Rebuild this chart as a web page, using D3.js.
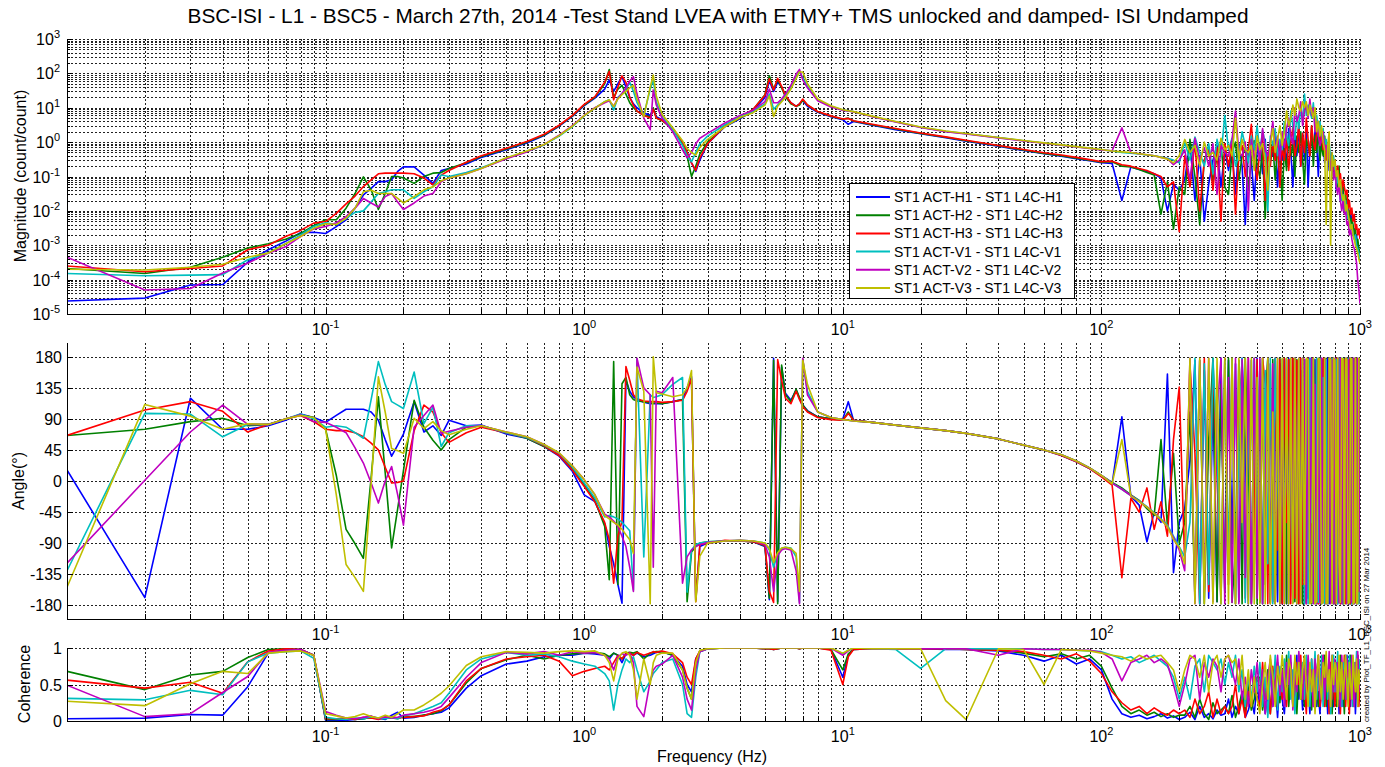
<!DOCTYPE html>
<html><head><meta charset="utf-8">
<script src="https://cdn.jsdelivr.net/npm/d3@7"></script>
<style>
body{margin:0;background:#fff;}
svg{display:block;font-family:"Liberation Sans",Arial,Helvetica,sans-serif;}
</style>
</head><body>
<svg id="c" width="1385" height="767"></svg>
<script>
// ---------------- DATA ----------------
const freq = [
 0.01,0.02,0.03,0.04,0.05,0.06,0.07,0.08,0.09,0.1,
 0.11,0.12,0.13,0.14,0.15,0.16,0.17,0.18,0.19,0.2,
 0.22,0.24,0.26,0.28,0.3,0.35,0.4,
 0.5,0.6,0.7,0.8,0.9,1.0,1.1,
 1.2,1.25,1.3,1.35,1.4,1.45,1.5,1.55,1.6,1.7,1.8,1.85,1.9,2.0,
 2.2,2.4,2.5,2.6,2.7,2.8,3.0,
 3.5,4.0,4.5,5.0,
 5.2,5.4,5.6,5.8,6.0,6.3,6.6,6.8,7.0,7.3,
 8,9,10,10.5,11,
 13,16,20,25,30,40,50,60,70,80,90,100,
 110,120,130,140,150,160,170,180,190,200,
 210,220,230,240,250,260,270,280,290,300,
 310,320,330,340,350,360,370,380,390,400,
 410,420,430,440,450,460,470,480,490,500,
 510,520,530,540,550,560,570,580,590,600,
 610,620,630,640,650,660,670,680,690,700,
 710,720,730,740,750,760,770,780,790,800,
 810,820,830,840,850,860,870,880,890,900,
 910,920,930,940,950,960,970,980,990,1000
];

const seriesNames = [
 "ST1 ACT-H1 - ST1 L4C-H1","ST1 ACT-H2 - ST1 L4C-H2","ST1 ACT-H3 - ST1 L4C-H3",
 "ST1 ACT-V1 - ST1 L4C-V1","ST1 ACT-V2 - ST1 L4C-V2","ST1 ACT-V3 - ST1 L4C-V3"
];

// Magnitude (count/count)
const magH1 = [
 2.4e-5,2.9e-5,7e-5,7.2e-5,3.2e-4,7.4e-4,1.3e-3,2.3e-3,2.4e-3,2.2e-3,
 3.5e-3,5.5e-3,0.012,0.029,0.045,0.071,0.071,0.08,0.14,0.19,
 0.19,0.11,0.063,0.15,0.17,0.23,0.36,
 0.6,0.95,1.55,2.9,5.6,11.5,19,
 35,64,30,50,80,40,20,13,10,7,6,9,5.5,4.5,
 2.5,1.0,0.5,0.25,0.14,0.3,0.9,
 2.8,4.8,8.2,20,
 60,30,55,40,22,14,11,13,16,11,
 7.4,5.5,4.5,3.3,4.0,
 3.1,2.3,1.75,1.35,1.07,0.76,0.57,0.46,0.39,0.33,0.29,0.25,
 0.24,0.02,0.19,0.16,0.14,0.12,0.09,0.01,0.06,0.04,
 0.08,0.9,0.02,0.4,0.005,0.06,0.3,0.8,0.05,0.6,
 0.15,0.6,0.03,0.9,0.2,0.004,0.7,0.3,0.02,0.5,
 0.9,0.12,1.2,0.03,0.6,0.4,1.5,0.05,0.8,0.3,
 1.2,0.2,2.5,0.6,0.05,1.5,0.4,3.0,0.2,1.8,
 0.3,2.5,0.05,0.7,1.8,0.3,2.2,0.9,0.1,1.4,
 0.6,1.2,0.25,0.6,0.9,0.15,0.3,0.5,0.1,0.2,
 0.04,0.1,0.08,0.02,0.05,0.012,0.03,0.02,0.008,0.015,
 0.004,0.008,0.006,0.002,0.003,0.0015,0.002,0.0008,0.0006,0.0004
];
const magH2 = [
 2.1e-4,1.5e-4,2.3e-4,4.5e-4,8.3e-4,1.1e-3,1.5e-3,2.2e-3,3.7e-3,5.5e-3,
 5.5e-3,0.012,0.032,0.097,0.041,0.011,0.032,0.1,0.1,0.09,
 0.063,0.1,0.125,0.13,0.17,0.25,0.38,
 0.63,1.0,1.6,3.0,5.8,12,20,
 50,130,20,35,45,25,14,10,8,6,5.5,10,5,4.2,
 2.4,0.9,0.4,0.1,0.2,0.45,1.0,
 2.9,5.0,8.8,24,
 85,35,65,38,21,13,11,12,17,12,
 7.6,5.7,4.6,5.0,4.1,
 3.2,2.4,1.8,1.38,1.1,0.78,0.59,0.47,0.4,0.34,0.3,0.26,
 0.27,0.2,0.19,0.16,0.13,0.11,0.008,0.07,0.003,0.05,
 0.03,1.2,0.1,0.004,0.3,0.6,0.07,0.4,0.9,0.05,
 0.03,0.5,1.0,0.08,0.4,0.7,0.04,0.3,1.1,0.2,
 0.1,0.7,0.006,0.5,0.3,1.0,0.08,0.6,0.5,0.02,
 0.7,0.15,1.3,0.4,0.9,0.1,1.5,0.5,2.0,0.3,
 0.06,1.2,0.8,0.4,3.0,0.2,1.6,0.5,2.2,0.3,
 0.9,0.4,1.5,0.5,0.3,0.6,0.2,0.4,0.1,0.25,
 0.1,0.05,0.2,0.03,0.06,0.05,0.01,0.03,0.015,0.006,
 0.01,0.003,0.006,0.004,0.002,0.003,0.001,0.0015,0.0008,0.0006
];
const magH3 = [
 2.5e-4,1.7e-4,2.1e-4,2.5e-4,7.4e-4,1e-3,1.8e-3,2.7e-3,4.4e-3,4.9e-3,
 8.5e-3,0.016,0.027,0.051,0.08,0.12,0.125,0.125,0.125,0.125,
 0.12,0.09,0.057,0.11,0.15,0.26,0.4,
 0.66,1.05,1.7,3.1,6.0,12.5,21,
 55,115,17,40,85,55,20,12,8,6,5,9,5,4.3,
 2.5,1.0,0.5,0.25,0.15,0.35,0.9,
 3.0,5.2,9.0,23,
 70,33,72,42,23,14,11,13,18,12,
 7.8,5.8,4.7,4.9,4.2,
 3.3,2.5,1.85,1.42,1.13,0.8,0.61,0.49,0.42,0.36,0.31,0.27,
 0.28,0.22,0.2,0.17,0.15,0.12,0.1,0.05,0.07,0.0025,
 0.4,0.05,1.0,0.01,0.3,0.6,0.04,0.7,0.005,0.9,
 0.2,0.9,0.008,0.4,0.8,0.1,0.6,3.3,0.3,0.08,
 0.6,1.4,0.02,0.5,0.2,1.0,0.3,1.2,0.05,0.7,
 0.3,1.3,0.15,0.9,2.8,0.4,0.8,3.5,0.2,1.8,
 0.5,5.0,1.2,0.4,3.0,1.1,0.6,2.0,4.0,0.8,
 1.5,0.6,1.0,0.3,0.6,0.5,0.25,0.4,0.15,0.3,
 0.1,0.2,0.06,0.12,0.04,0.08,0.05,0.03,0.04,0.012,
 0.02,0.008,0.012,0.005,0.008,0.003,0.004,0.002,0.003,0.0015
];
const magV1 = [
 1.5e-4,1.3e-4,1.35e-4,1.4e-4,3.8e-4,6e-4,1.1e-3,2e-3,3.5e-3,4.5e-3,
 4e-3,6.1e-3,9e-3,0.01,0.018,0.032,0.036,0.041,0.041,0.041,
 0.023,0.036,0.05,0.11,0.1,0.13,0.18,
 0.34,0.53,0.83,1.5,2.8,5.8,9.7,
 15,17,8.6,20,26,35,55,30,14,6,35,64,15,5.5,
 2.3,0.8,0.4,0.27,0.5,0.9,1.5,
 3.2,5.6,7.9,13,
 25,9,12,16,22,38,75,115,75,42,
 17,11,8.6,8.1,7.7,
 5.6,3.9,2.7,2.05,1.75,1.35,1.1,0.94,0.82,0.73,0.66,0.6,
 0.55,0.5,0.48,0.45,0.42,0.4,0.37,0.34,0.3,0.25,
 1.0,0.3,1.4,0.5,0.2,0.9,0.12,1.2,0.4,6.0,
 0.6,1.3,0.2,0.4,2.0,0.8,0.25,1.5,0.6,3.0,
 0.5,2.2,0.9,0.01,1.5,0.8,2.5,0.4,1.2,0.6,
 4.0,1.5,0.8,8.0,3.0,1.2,6.0,2.5,10,4.0,
 25,6.0,12,8.0,5.0,14,3.0,6.0,2.0,4.0,
 1.5,2.5,0.8,1.2,0.5,0.9,0.35,0.2,0.4,0.15,
 0.06,0.1,0.04,0.06,0.02,0.03,0.01,0.02,0.008,0.006,
 0.005,0.003,0.004,0.002,0.0015,0.002,0.001,0.0008,0.0006,0.0004
];
const magV2 = [
 4.5e-4,5e-5,5.5e-5,1.55e-4,3e-4,5.9e-4,9e-4,1.8e-3,3e-3,3.5e-3,
 4.5e-3,6.8e-3,0.012,0.023,0.017,0.013,0.026,0.032,0.018,0.011,
 0.017,0.027,0.032,0.071,0.09,0.12,0.17,
 0.33,0.52,0.85,1.6,3.0,6.0,10,
 14,16,11,19,26,38,60,80,25,5,2.3,33,12,5,
 2.0,0.6,0.35,0.5,0.9,1.3,1.8,
 3.6,6.0,8.5,15,
 35,14,14,18,25,45,95,130,65,38,
 16,10.5,8.4,8.0,7.6,
 5.5,3.85,2.65,2.0,1.72,1.33,1.08,0.93,0.81,0.72,0.65,0.59,
 0.56,2.6,0.5,0.46,0.43,0.4,0.36,0.33,0.22,0.3,
 0.6,0.08,1.3,0.3,0.7,0.2,0.9,0.03,0.8,0.5,
 0.4,1.2,8.0,0.5,0.4,1.0,0.01,1.2,0.3,0.9,
 0.3,2.5,0.6,0.4,1.0,4.0,0.6,1.5,0.3,2.0,
 0.7,2.5,5.0,1.5,0.9,10,4.0,6.0,15,3.0,
 8.0,12,5.0,18,6.0,10,2.0,4.0,1.5,0.8,
 1.2,2.0,0.6,0.8,0.3,0.5,0.15,0.3,0.08,0.15,
 0.05,0.03,0.06,0.02,0.01,0.02,0.008,0.01,0.004,0.005,
 0.002,0.003,0.0015,0.001,0.0008,0.0005,0.0003,0.0001,0.00005,0.00002
];
const magV3 = [
 2e-4,1.9e-4,2.3e-4,2.8e-4,4.5e-4,5.9e-4,1.1e-3,1.8e-3,3.1e-3,4.2e-3,
 4e-3,6.1e-3,0.012,0.036,0.04,0.032,0.032,0.032,0.023,0.017,
 0.026,0.041,0.05,0.075,0.09,0.12,0.17,
 0.35,0.55,0.85,1.55,2.9,5.9,9.8,
 15,17,10.8,18,24,30,38,45,18,5.5,40,90,22,6.5,
 2.6,1.1,0.65,0.5,0.42,0.7,1.2,
 2.8,5.2,7.2,12,
 22,5.5,11,15,20,35,70,110,110,50,
 18,11.5,8.7,8.2,7.7,
 5.7,4.0,2.75,2.1,1.78,1.37,1.12,0.95,0.83,0.74,0.67,0.61,
 0.55,0.52,0.5,0.46,0.43,0.4,0.36,0.32,0.25,0.4,
 1.2,0.5,0.8,0.2,1.0,0.4,0.5,0.3,1.3,0.6,
 0.8,0.4,5.0,0.3,1.2,0.6,0.5,0.8,0.15,1.5,
 0.6,0.9,0.3,0.04,0.8,2.5,0.5,1.2,3.0,0.8,
 2.0,8.0,3.0,5.0,12,6.0,18,10,8.0,15,
 10,15,6.0,12,8.0,5.0,10,2.0,4.0,1.5,
 3.0,1.0,0.6,0.004,0.8,2.0,0.001,0.5,0.2,0.3,
 0.1,0.15,0.05,0.08,0.03,0.02,0.03,0.01,0.015,0.008,
 0.005,0.003,0.004,0.002,0.0015,0.001,0.0008,0.0006,0.0004,0.0003
];

// Angle (degrees)
const phH1 = [
 16,-169,120,75,75,80,88,97,92,85,
 95,104,104,104,100,88,60,36,52,68,
 115,71,80,66,88,80,81,
 68,62,50,36,14,-20,-30,
 -62,-95,-120,-150,-177,146,130,122,118,114,112,112,112,112,
 115,118,135,151,-172,-95,-90,
 -87,-87,-88,-95,
 -172,178,-175,165,127,117,132,120,110,102,
 93,90,90,115,88,
 85,81,77,73,69,61,52,45,37,28,18,7,
 -4,93,-22,-35,-88,-45,-60,155,-133,-60,
 -40,30,175,-178,160,-170,120,-175,178,-160,
 175,-90,170,-175,178,60,-178,175,-120,178,
 -176,178,-150,176,-178,80,178,-175,170,-178,
 176,-178,178,-60,-176,178,-178,140,-176,178,
 -178,176,-170,178,-178,20,176,-178,178,-175,
 178,-176,160,-178,178,-178,90,-176,178,-178,
 176,-178,178,-140,176,-178,178,-176,60,178,
 -178,176,-178,178,-176,178,-178,120,-176,178
];
const phH2 = [
 66,75,86,91,80,82,90,96,92,75,
 8,-70,-91,-112,5,122,12,-97,-40,15,
 117,78,59,45,60,78,80,
 70,62,50,38,18,-5,-28,
 -66,-143,173,-150,141,150,125,118,116,115,113,113,113,112,
 115,118,-175,-103,-95,-90,-88,
 -87,-87,-88,-94,
 -170,175,-178,168,125,115,133,121,110,101,
 93,90,88,100,88,
 85,81,77,73,69,61,52,45,38,29,19,8,
 -2,-10,-20,-28,-40,-50,60,-65,40,-90,
 -60,100,-170,175,-178,60,178,-175,140,-160,
 178,-176,-100,175,-178,178,30,-176,178,-178,
 170,-178,120,178,-176,176,-178,-20,178,-176,
 178,-178,176,-120,178,-175,176,-178,160,-178,
 175,-176,178,20,-178,178,-176,176,-178,100,
 -178,176,-178,178,-140,178,-176,178,-178,176,
 -176,178,60,-178,176,-178,178,-176,178,-150,
 178,-178,176,-178,140,-176,178,-178,176,150
];
const phH3 = [
 66,103,115,101,71,82,90,95,86,75,
 73,73,70,64,55,45,20,-3,-2,0,
 73,110,100,70,56,70,78,
 70,63,51,37,16,-8,-30,
 -60,-85,-148,-80,-58,166,146,125,119,116,115,115,115,114,
 115,117,130,148,-175,-92,-90,
 -86,-87,-88,-93,
 -160,-176,176,146,120,112,130,118,108,100,
 92,89,88,98,88,
 85,81,77,73,69,61,52,45,37,28,18,6,
 -6,-140,-25,-45,-10,-70,-30,-80,60,136,
 -120,170,40,-178,178,-160,175,10,-178,178,
 -150,178,-178,90,175,-170,178,-178,-60,176,
 -175,178,140,-178,170,-175,178,-100,176,-178,
 178,-60,176,-178,178,-170,175,-178,178,-150,
 176,-178,178,-176,90,178,-178,176,-178,178,
 -176,178,-178,176,-178,30,178,-176,178,-178,
 178,-176,178,-178,120,-178,176,-178,178,-176,
 178,-178,176,-178,178,-176,178,-170,176,-178
];
const phV1 = [
 -130,98,97,64,82,82,90,97,90,78,
 80,78,70,62,118,173,140,115,110,105,
 158,83,107,50,70,80,80,
 70,63,52,40,20,-3,-25,
 -52,-50,-52,-55,-60,-66,-72,-158,177,-110,125,121,122,125,
 140,150,-161,-100,-92,-90,-88,
 -87,-86,-87,-90,
 -100,-125,-105,-98,-96,-97,-110,-176,176,130,
 100,92,89,88,87,
 85,81,77,73,69,61,52,45,38,29,19,8,
 -3,-12,-21,-29,-37,-46,-55,-64,-80,-95,
 -110,-60,178,-178,170,-150,178,50,-178,175,
 -120,178,-178,60,178,-176,120,-178,175,-90,
 176,-178,160,-120,178,-178,178,30,-178,176,
 -175,178,-178,120,-176,178,-178,176,-140,178,
 -178,176,-178,178,-60,176,-178,178,-176,178,
 -178,150,-178,176,-178,178,-176,178,-178,100,
 176,-178,178,-176,178,-178,60,176,-178,178,
 -176,178,-178,176,-178,178,-120,178,-178,176
];
const phV2 = [
 -119,1,71,110,82,82,90,96,86,85,
 78,70,48,26,-3,-32,0,21,-20,-64,
 78,95,110,69,72,78,80,
 71,64,53,40,22,2,-20,
 -48,-52,-58,-66,-80,-95,-125,-160,178,135,125,-125,130,128,
 150,-148,-110,-100,-95,-92,-89,
 -87,-86,-87,-92,
 -110,-160,-108,-100,-98,-100,-130,-178,178,125,
 100,92,89,88,87,
 85,81,77,73,69,61,52,45,38,29,19,8,
 -3,-12,-21,-30,-38,-47,-56,-66,-82,-100,
 -130,178,-178,175,-160,178,-175,100,178,-178,
 150,-176,178,-178,176,-140,178,-178,178,-170,
 178,-178,-20,178,-176,170,-178,178,-178,140,
 -178,176,-178,178,-120,178,-178,178,-176,178,
 176,-178,178,-176,178,-178,140,-178,176,-178,
 178,-176,178,-178,-40,178,-178,176,-178,178,
 -178,178,-176,178,-178,150,-176,178,-178,176,
 -178,178,-176,178,-178,176,-178,178,-160,178
];
const phV3 = [
 -154,111,94,75,83,82,90,95,92,75,
 -20,-121,-140,-160,-5,151,100,47,44,40,
 91,76,86,73,67,75,80,
 71,64,53,41,22,2,-20,
 -50,-55,-60,-64,-70,-78,-85,-105,165,130,-178,180,128,126,
 122,125,135,160,-175,-109,-90,
 -87,-86,-87,-90,
 -98,-118,-104,-97,-96,-98,-105,-160,175,140,
 100,92,89,88,87,
 85,81,77,73,69,61,52,45,38,29,19,8,
 -4,60,-22,-30,-38,-47,-56,-66,-85,-96,
 -120,178,-178,178,-178,178,-178,178,-178,178,
 -178,178,-178,178,-60,178,-178,178,-178,150,
 -178,178,-178,178,-178,100,-178,178,-178,178,
 -178,178,-178,178,-178,178,-178,178,-178,178,
 -150,178,176,-178,-176,178,-178,-175,178,176,
 -178,-176,178,-178,-177,178,176,-178,178,175,
 -178,178,-120,-176,178,177,-178,178,176,-178,
 -176,178,177,-178,-176,178,-178,-177,178,176
];

// Coherence
const cohH1 = [
 0.03,0.04,0.09,0.08,0.47,0.93,0.98,0.98,0.9,0.01,
 0.01,0.01,0.02,0.03,0.05,0.04,0.02,0.08,0.12,0.04,
 0.05,0.08,0.1,0.12,0.18,0.45,0.62,
 0.78,0.82,0.88,0.9,0.9,0.93,0.92,
 0.9,0.85,0.93,0.9,0.8,0.92,0.93,0.9,0.93,0.88,0.9,0.92,0.94,0.95,
 0.9,0.75,0.5,0.4,0.85,0.95,0.99,
 1,1,1,0.99,
 0.99,0.98,0.99,1,1,1,1,0.99,1,1,
 1,0.98,0.6,0.9,0.98,
 0.99,0.99,0.99,0.98,0.98,0.96,0.9,0.82,0.9,0.78,0.85,0.7,
 0.3,0.1,0.05,0.08,0.03,0.06,0.1,0.04,0.07,0.02,
 0.05,0.12,0.02,0.2,0.05,0.1,0.03,0.15,0.08,0.1,
 0.3,0.05,0.2,0.1,0.4,0.05,0.15,0.3,0.1,0.5,
 0.2,0.6,0.1,0.35,0.7,0.2,0.5,0.05,0.6,0.3,
 0.1,0.6,0.3,0.8,0.2,0.5,0.9,0.3,0.6,0.15,
 0.7,0.2,0.5,0.1,0.6,0.3,0.8,0.2,0.4,0.1,
 0.5,0.8,0.3,0.6,0.1,0.7,0.4,0.9,0.2,0.5,
 0.3,0.7,0.1,0.5,0.8,0.2,0.6,0.3,0.9,0.4,
 0.6,0.2,0.8,0.4,0.7,0.1,0.5,0.9,0.3,0.6
];
const cohH2 = [
 0.68,0.43,0.63,0.68,0.87,0.98,0.99,0.98,0.9,0.02,
 0.02,0.03,0.02,0.03,0.05,0.03,0.04,0.04,0.03,0.06,
 0.06,0.08,0.1,0.14,0.22,0.52,0.72,
 0.84,0.9,0.85,0.9,0.92,0.93,0.94,
 0.92,0.88,0.93,0.9,0.85,0.93,0.94,0.93,0.95,0.85,0.93,0.94,0.95,0.95,
 0.9,0.7,0.45,0.3,0.8,0.96,0.99,
 1,1,1,0.99,
 0.99,0.98,0.99,1,1,1,1,0.99,1,1,
 1,0.98,0.7,0.92,0.98,
 0.99,0.99,0.99,0.99,0.98,0.97,0.93,0.88,0.92,0.85,0.9,0.75,
 0.45,0.2,0.1,0.15,0.08,0.12,0.06,0.1,0.05,0.08,
 0.08,0.2,0.05,0.3,0.1,0.02,0.25,0.1,0.15,0.2,
 0.1,0.35,0.05,0.2,0.4,0.1,0.5,0.15,0.3,0.6,
 0.6,0.15,0.4,0.7,0.1,0.55,0.3,0.8,0.25,0.6,
 0.4,0.9,0.2,0.6,0.35,0.85,0.1,0.7,0.3,0.5,
 0.2,0.8,0.4,0.6,0.15,0.5,0.3,0.7,0.2,0.35,
 0.7,0.3,0.9,0.2,0.6,0.4,0.8,0.1,0.5,0.7,
 0.2,0.6,0.4,0.9,0.3,0.5,0.1,0.7,0.4,0.8,
 0.3,0.9,0.5,0.2,0.6,0.4,0.8,0.3,0.7,0.5
];
const cohH3 = [
 0.56,0.45,0.53,0.38,0.81,0.96,0.99,0.98,0.9,0.03,
 0.03,0.04,0.02,0.05,0.04,0.02,0.05,0.06,0.04,0.05,
 0.06,0.07,0.12,0.15,0.22,0.55,0.72,
 0.85,0.88,0.9,0.82,0.62,0.68,0.72,
 0.75,0.7,0.8,0.9,0.85,0.92,0.93,0.9,0.94,0.9,0.93,0.95,0.94,0.96,
 0.92,0.8,0.6,0.5,0.85,0.96,0.99,
 1,1,1,0.99,
 0.99,0.98,0.99,1,1,1,1,0.99,1,1,
 1,0.97,0.5,0.88,0.98,
 0.99,0.99,0.99,0.99,0.98,0.97,0.95,0.9,0.85,0.92,0.82,0.65,
 0.4,0.25,0.15,0.2,0.1,0.18,0.12,0.08,0.15,0.1,
 0.15,0.05,0.3,0.1,0.2,0.4,0.05,0.3,0.1,0.2,
 0.1,0.2,0.5,0.1,0.3,0.05,0.4,0.2,0.6,0.3,
 0.2,0.8,0.3,0.5,0.1,0.75,0.4,0.2,0.65,0.3,
 0.7,0.2,0.85,0.4,0.6,0.15,0.8,0.5,0.9,0.3,
 0.5,0.1,0.7,0.3,0.85,0.2,0.6,0.4,0.9,0.2,
 0.4,0.9,0.2,0.7,0.5,0.1,0.8,0.3,0.6,0.2,
 0.8,0.3,0.5,0.1,0.7,0.4,0.9,0.2,0.6,0.3,
 0.1,0.7,0.3,0.8,0.2,0.6,0.4,0.9,0.2,0.5
];
const cohV1 = [
 0.31,0.29,0.42,0.36,0.81,0.93,0.95,0.96,0.86,0.05,
 0.03,0.02,0.04,0.03,0.06,0.04,0.03,0.05,0.03,0.07,
 0.1,0.15,0.2,0.25,0.38,0.7,0.85,
 0.94,0.9,0.92,0.88,0.82,0.78,0.75,
 0.65,0.55,0.15,0.5,0.7,0.85,0.8,0.88,0.7,0.4,0.55,0.65,0.7,0.8,
 0.85,0.5,0.1,0.05,0.6,0.95,0.99,
 1,1,1,1,
 1,1,1,1,1,1,1,1,1,1,
 1,1,0.92,0.97,1,
 0.99,0.98,0.72,0.99,0.99,0.99,0.99,0.98,0.98,0.97,0.96,0.95,
 0.9,0.85,0.88,0.8,0.85,0.9,0.82,0.75,0.6,0.3,
 0.6,0.3,0.75,0.85,0.4,0.9,0.8,0.7,0.85,0.5,
 0.8,0.6,0.9,0.4,0.7,0.2,0.6,0.3,0.75,0.4,
 0.8,0.2,0.6,0.05,0.7,0.3,0.9,0.15,0.75,0.4,
 0.85,0.5,0.95,0.3,0.7,0.1,0.6,0.9,0.4,0.8,
 0.3,0.9,0.6,0.2,0.85,0.5,0.95,0.3,0.7,0.4,
 0.9,0.2,0.6,0.8,0.3,0.7,0.1,0.5,0.9,0.4,
 0.6,0.95,0.3,0.7,0.2,0.8,0.5,0.9,0.3,0.6,
 0.9,0.4,0.7,0.2,0.8,0.5,0.95,0.3,0.6,0.85
];
const cohV2 = [
 0.49,0.06,0.1,0.39,0.61,0.94,0.97,0.98,0.9,0.13,
 0.08,0.04,0.03,0.05,0.07,0.03,0.06,0.04,0.05,0.08,
 0.1,0.12,0.15,0.2,0.32,0.6,0.8,
 0.94,0.92,0.95,0.9,0.95,0.93,0.94,
 0.9,0.85,0.7,0.88,0.92,0.9,0.93,0.8,0.2,0.06,0.55,0.7,0.75,0.78,
 0.9,0.6,0.3,0.15,0.7,0.95,0.99,
 1,1,1,1,
 1,1,1,1,1,1,1,1,1,1,
 1,1,0.9,0.96,1,
 0.99,0.99,0.99,0.99,0.99,0.9,0.99,0.98,0.98,0.97,0.97,0.94,
 0.85,0.55,0.8,0.85,0.9,0.8,0.85,0.78,0.5,0.2,
 0.5,0.85,0.9,0.3,0.8,0.6,0.85,0.75,0.4,0.85,
 0.9,0.7,0.5,0.85,0.3,0.6,0.2,0.7,0.4,0.8,
 0.3,0.7,0.1,0.6,0.85,0.2,0.5,0.9,0.35,0.7,
 0.2,0.8,0.5,0.9,0.15,0.7,0.4,0.95,0.6,0.3,
 0.8,0.4,0.9,0.5,0.7,0.2,0.85,0.6,0.9,0.3,
 0.6,0.9,0.3,0.8,0.5,0.95,0.2,0.7,0.4,0.85,
 0.4,0.8,0.6,0.2,0.9,0.5,0.7,0.3,0.85,0.6,
 0.7,0.3,0.9,0.5,0.2,0.8,0.6,0.95,0.4,0.7
];
const cohV3 = [
 0.27,0.21,0.51,0.68,0.65,0.93,0.95,0.96,0.9,0.1,
 0.07,0.04,0.06,0.1,0.06,0.04,0.08,0.05,0.1,0.15,
 0.15,0.22,0.3,0.38,0.48,0.76,0.88,
 0.95,0.94,0.93,0.95,0.96,0.95,0.96,
 0.9,0.8,0.55,0.85,0.93,0.95,0.9,0.7,0.3,0.85,0.5,0.8,0.9,0.93,
 0.93,0.7,0.45,0.3,0.8,0.97,0.99,
 1,1,1,1,
 1,1,1,1,1,1,1,1,1,1,
 1,1,0.93,0.97,1,
 0.99,0.99,0.99,0.28,0.02,0.99,0.98,0.5,0.98,0.97,0.96,0.93,
 0.9,0.88,0.82,0.9,0.85,0.88,0.9,0.8,0.7,0.4,
 0.7,0.9,0.85,0.6,0.9,0.4,0.8,0.9,0.6,0.85,
 0.9,0.8,0.85,0.5,0.9,0.3,0.7,0.2,0.6,0.3,
 0.1,0.5,0.8,0.3,0.9,0.6,0.2,0.75,0.5,0.9,
 0.6,0.3,0.85,0.7,0.2,0.9,0.5,0.8,0.3,0.7,
 0.9,0.5,0.2,0.8,0.4,0.7,0.1,0.6,0.9,0.5,
 0.3,0.8,0.6,0.95,0.4,0.7,0.2,0.9,0.5,0.8,
 0.7,0.2,0.9,0.4,0.8,0.3,0.6,0.9,0.5,0.2,
 0.8,0.5,0.3,0.9,0.6,0.4,0.85,0.2,0.7,0.5
];

// Tick values
const xTickVals = [0.1, 1, 10, 100, 1000];
const magTickVals = [1e-5,1e-4,1e-3,1e-2,1e-1,1,10,100,1000];
const phTickVals = [-180,-135,-90,-45,0,45,90,135,180];
const cohTickVals = [0, 0.5, 1];

const titleText = "BSC-ISI - L1 - BSC5 - March 27th, 2014 -Test Stand LVEA with ETMY+ TMS unlocked and damped- ISI Undamped";
const creditText = "created by Plot_TF_L1_BSC_ISI on 27 Mar 2014";

// ---------------- DRAWING ----------------
const colors = ["#0000ff","#008000","#ff0000","#00bfbf","#bf00bf","#bfbf00"];
const mags = [magH1,magH2,magH3,magV1,magV2,magV3];
const phs = [phH1,phH2,phH3,phV1,phV2,phV3];
const cohs = [cohH1,cohH2,cohH3,cohV1,cohV2,cohV3];
[...mags,...phs,...cohs].forEach((a,i)=>{ if(a.length!==freq.length) console.error("length mismatch", i, a.length); });

const svg = d3.select("#c");
const L = 67, R = 1360;
const x = d3.scaleLog().domain([0.01, 1000]).range([L, R]);
const yMag = d3.scaleLog().domain([1e-5, 1e3]).range([314, 39]);
const yPh = d3.scaleLinear().domain([-200, 200]).range([619, 343]);
const yCoh = d3.scaleLinear().domain([0, 1]).range([721, 648]);

const xGrid = [];
for (let e = -2; e <= 2; e++) for (let k = 1; k <= 9; k++) {
  const v = +(k * Math.pow(10, e)).toPrecision(6);
  if (v > 0.0100001) xGrid.push(v);
}
xGrid.push(1000);

const gridStyle = g => g.attr("stroke","#222").attr("stroke-width",1)
  .attr("stroke-dasharray","2,2").attr("shape-rendering","crispEdges");

function supLabel(sel, exp) {
  sel.append("tspan").text("10");
  sel.append("tspan").attr("dy", -7).attr("font-size", 11).text(exp);
}

function panel(id, y, yGridVals, yTicks, yMinor, data, fmtY, isLog) {
  const top = y.range()[1], bottom = y.range()[0];
  const g = svg.append("g");
  const clipId = "clip-" + id;
  svg.append("clipPath").attr("id", clipId).append("rect")
    .attr("x", L).attr("y", top).attr("width", R - L).attr("height", bottom - top);
  const gg = g.append("g").call(gridStyle);
  xGrid.forEach(v => {
    const px = Math.round(x(v)) + 0.5;
    gg.append("line").attr("x1", px).attr("x2", px).attr("y1", top).attr("y2", bottom);
  });
  yGridVals.forEach(v => {
    const py = Math.round(y(v)) + 0.5;
    gg.append("line").attr("x1", L).attr("x2", R).attr("y1", py).attr("y2", py);
  });
  const dg = g.append("g").attr("clip-path", `url(#${clipId})`);
  data.forEach((arr, si) => {
    const line = d3.line().x((d, i) => x(freq[i])).y(d => y(d));
    dg.append("path").attr("d", line(arr)).attr("fill", "none")
      .attr("stroke", colors[si]).attr("stroke-width", 1.6).attr("stroke-linejoin","round");
  });
  const ax = g.append("g").attr("stroke", "#000").attr("stroke-width", 1).attr("shape-rendering","crispEdges");
  ax.append("line").attr("x1", L + 0.5).attr("x2", L + 0.5).attr("y1", top).attr("y2", bottom + 0.5);
  ax.append("line").attr("x1", L).attr("x2", R + 1).attr("y1", bottom + 0.5).attr("y2", bottom + 0.5);
  xGrid.forEach(v => {
    const px = Math.round(x(v)) + 0.5;
    ax.append("line").attr("x1", px).attr("x2", px).attr("y1", bottom).attr("y2", bottom - 5);
  });
  yTicks.forEach(v => {
    const py = Math.round(y(v)) + 0.5;
    ax.append("line").attr("x1", L).attr("x2", L + 6).attr("y1", py).attr("y2", py);
  });
  yMinor.forEach(v => {
    const py = Math.round(y(v)) + 0.5;
    ax.append("line").attr("x1", L).attr("x2", L + 3).attr("y1", py).attr("y2", py);
  });
  xTickVals.forEach(v => {
    const t = g.append("text").attr("x", x(v)).attr("y", bottom + 21)
      .attr("text-anchor", "middle").attr("font-size", 16).attr("fill", "#000");
    supLabel(t, String(Math.round(Math.log10(v))));
  });
  yTicks.forEach(v => {
    const t = g.append("text").attr("x", isLog ? 60 : 62).attr("y", y(v) + 6)
      .attr("text-anchor", "end").attr("font-size", 16).attr("fill", "#000");
    if (isLog) supLabel(t, String(Math.round(Math.log10(v))));
    else t.text(fmtY(v));
  });
  return g;
}

const magMinor = [];
for (let e = -5; e <= 2; e++) for (let k = 2; k <= 9; k++) magMinor.push(k * Math.pow(10, e));
const magGrid = magMinor.concat(magTickVals.filter(v => v > 1e-5));
panel("mag", yMag, magGrid, magTickVals, magMinor, mags, null, true);
panel("ph", yPh, phTickVals, phTickVals, [], phs, d => String(d), false);
panel("coh", yCoh, cohTickVals.filter(v => v > 0), cohTickVals, [], cohs, d => String(d), false);

svg.append("text").attr("x", 718).attr("y", 23).attr("text-anchor", "middle")
  .attr("font-size", 20.8).attr("fill", "#000").text(titleText);

const ylab = (txt, xx, yy) => svg.append("text")
  .attr("transform", `translate(${xx},${yy}) rotate(-90)`)
  .attr("text-anchor", "middle").attr("font-size", 16).attr("fill", "#000").text(txt);
ylab("Magnitude (count/count)", 26, 176);
ylab("Angle(\u00b0)", 24, 481);
ylab("Coherence", 30, 684);
svg.append("text").attr("x", 712).attr("y", 762).attr("text-anchor", "middle")
  .attr("font-size", 16).attr("fill", "#000").text("Frequency (Hz)");

const lg = svg.append("g");
lg.append("rect").attr("x", 849.5).attr("y", 183.5).attr("width", 225).attr("height", 115)
  .attr("fill", "#fff").attr("stroke", "#000").attr("stroke-width", 1);
seriesNames.forEach((n, i) => {
  const yy = 197 + i * 18.2;
  lg.append("line").attr("x1", 856).attr("x2", 890).attr("y1", yy).attr("y2", yy)
    .attr("stroke", colors[i]).attr("stroke-width", 2);
  lg.append("text").attr("x", 894).attr("y", yy + 5).attr("font-size", 14).attr("fill", "#000").text(n);
});

svg.append("text").attr("transform", "translate(1369,722) rotate(-90)")
  .attr("font-size", 8).attr("fill", "#000").text(creditText);
</script>
</body></html>
